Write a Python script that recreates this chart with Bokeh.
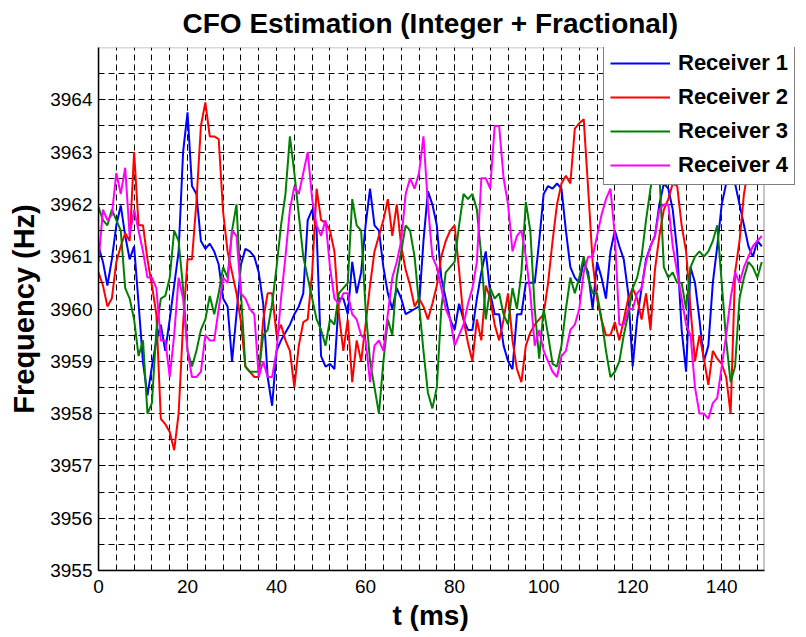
from bokeh.plotting import figure
from bokeh.models import FixedTicker, Legend, LegendItem, Range1d, BoxAnnotation, Title
from bokeh.embed import file_html
from bokeh.resources import INLINE

# ---- data ----
t_ms = list(range(150))

receiver1 = [
    3961.2, 3960.9, 3960.45, 3960.95, 3961.6, 3961.98, 3961.4, 3960.95, 3961.2, 3960.1,
    3958.98, 3958.35, 3958.9, 3959.4, 3959.7, 3959.2, 3959.8, 3960.45, 3961.1, 3963.0,
    3963.76, 3962.35, 3962.2, 3961.3, 3961.15, 3961.25, 3961.1, 3960.85, 3960.2, 3960.05,
    3959.0, 3959.9, 3960.85, 3961.15, 3961.1, 3961.0, 3960.7, 3960.1, 3958.7, 3958.15,
    3959.2, 3959.4, 3959.55, 3959.7, 3959.9, 3960.05, 3960.3, 3961.7, 3961.9, 3961.5,
    3959.1, 3958.9, 3958.95, 3958.85, 3960.2, 3960.2, 3959.9, 3960.9, 3960.3, 3960.7,
    3961.6, 3962.3, 3961.6, 3961.5, 3960.8, 3960.3, 3960.0, 3960.4, 3960.2, 3959.9,
    3959.95, 3960.0, 3960.05, 3961.3, 3962.25, 3962.0, 3961.6, 3960.6, 3960.2, 3959.8,
    3959.6, 3960.1, 3959.8, 3959.6, 3959.6, 3960.2, 3960.7, 3961.1, 3960.3, 3959.9,
    3959.9, 3959.3, 3959.0, 3958.85, 3959.9, 3959.9, 3960.5, 3960.5, 3960.5, 3961.3,
    3962.2, 3962.35, 3962.3, 3962.4, 3962.3, 3961.5, 3960.8, 3960.6, 3960.5, 3960.9,
    3960.7, 3960.0, 3960.9, 3960.6, 3960.2, 3961.1, 3961.5, 3961.2, 3960.95, 3960.3,
    3958.9, 3959.8, 3960.4, 3960.95, 3961.2, 3961.4, 3962.0, 3962.4, 3962.3, 3961.9,
    3961.1, 3959.6, 3958.8, 3960.8, 3960.5, 3959.8, 3959.0, 3959.3, 3960.5, 3961.2,
    3962.0, 3962.4, 3962.5, 3962.4, 3962.0, 3961.6, 3961.2, 3961.0, 3961.3, 3961.2,
]

receiver2 = [
    3960.7, 3960.45, 3960.05, 3960.2, 3960.9, 3961.2, 3961.45, 3961.3, 3963.0, 3961.6,
    3961.6, 3960.95, 3960.45, 3959.9, 3957.9, 3957.8, 3957.65, 3957.3, 3958.0, 3959.7,
    3960.95, 3960.95, 3962.05, 3963.5, 3963.95, 3963.3, 3963.3, 3963.25, 3961.85, 3961.1,
    3960.7, 3960.3, 3959.75, 3958.9, 3958.8, 3958.7, 3958.7, 3959.8, 3960.3, 3960.3,
    3959.5, 3959.7, 3959.4, 3959.2, 3958.5, 3959.3, 3959.75, 3959.8, 3960.7, 3962.3,
    3961.7, 3961.65, 3961.5, 3961.1, 3959.9, 3959.2, 3959.8, 3958.6, 3959.4, 3959.0,
    3959.7, 3960.45, 3961.1, 3961.4, 3961.7, 3962.1, 3961.4, 3962.0, 3961.2, 3960.75,
    3960.45, 3960.05, 3960.2, 3960.05, 3959.8, 3960.1, 3960.45, 3961.0, 3961.3, 3961.5,
    3961.6, 3960.75, 3959.8, 3959.35, 3959.0, 3959.8, 3959.4, 3960.45, 3960.2, 3959.7,
    3959.4, 3959.8, 3960.3, 3959.4, 3958.85, 3958.6, 3959.3, 3959.55, 3959.7, 3959.8,
    3959.9, 3960.5, 3961.3, 3962.0, 3962.4, 3962.55, 3962.4, 3963.45, 3963.55, 3963.63,
    3962.3, 3960.9, 3960.2, 3959.8, 3959.5, 3959.5, 3959.75, 3959.4, 3959.8, 3960.2,
    3960.4, 3960.2, 3959.8, 3960.3, 3959.6, 3960.75, 3961.4, 3961.9, 3962.1, 3962.4,
    3962.35, 3961.6, 3961.1, 3960.0, 3959.0, 3959.5, 3959.05, 3958.55, 3959.2, 3959.05,
    3958.95, 3958.7, 3958.0, 3960.7, 3961.3, 3962.2, 3962.7, 3962.9, 3962.9, 3962.8,
]

receiver3 = [
    3961.95, 3961.7, 3961.6, 3961.9, 3961.7, 3961.5, 3960.4, 3960.2, 3959.8, 3959.1,
    3959.4, 3958.0, 3958.2, 3959.6, 3960.2, 3960.25, 3960.6, 3961.5, 3961.3, 3960.4,
    3959.2, 3958.9, 3959.2, 3959.6, 3959.8, 3960.25, 3959.9, 3960.3, 3960.8, 3960.6,
    3961.5, 3962.0, 3960.3, 3958.9, 3958.8, 3958.8, 3958.8, 3959.5, 3959.6, 3960.1,
    3960.8, 3961.6, 3962.2, 3963.3, 3962.6, 3961.8, 3961.0, 3960.6, 3960.2, 3959.8,
    3959.6, 3959.3, 3959.8, 3959.7, 3960.3, 3960.4, 3960.5, 3962.1, 3961.6, 3961.5,
    3960.0, 3959.0, 3958.5, 3958.0, 3959.0, 3959.8, 3959.5, 3960.6, 3961.1, 3961.6,
    3961.5, 3961.0, 3960.1, 3959.2, 3958.4, 3958.1, 3958.5, 3960.0, 3960.7, 3960.8,
    3960.9, 3961.6, 3962.2, 3962.1, 3962.2, 3961.9, 3961.0, 3959.8, 3960.4, 3960.2,
    3960.3, 3959.9, 3959.7, 3960.4, 3960.0, 3960.7, 3962.05, 3961.5, 3960.0, 3959.05,
    3960.0, 3959.5, 3958.95, 3958.9, 3959.3, 3960.0, 3960.6, 3960.3, 3960.6, 3961.0,
    3960.6, 3960.3, 3960.3, 3959.8, 3959.2, 3958.7, 3958.8, 3959.0, 3959.5, 3959.9,
    3960.4, 3960.6, 3961.0, 3961.7, 3962.3, 3962.8, 3962.6, 3960.8, 3960.6, 3960.7,
    3960.5, 3960.5, 3960.0, 3960.8, 3961.0, 3961.1, 3961.0, 3961.1, 3961.3, 3961.6,
    3960.5, 3959.4, 3958.6, 3958.9, 3960.2, 3960.6, 3960.9, 3960.8, 3960.6, 3960.9,
]

receiver4 = [
    3960.9, 3961.9, 3961.7, 3961.8, 3962.6, 3962.2, 3962.7, 3961.4, 3961.9, 3961.5,
    3961.1, 3960.6, 3960.6, 3960.4, 3959.4, 3959.4, 3958.7, 3959.5, 3960.6, 3960.2,
    3959.2, 3958.7, 3958.7, 3958.8, 3959.5, 3959.4, 3959.4, 3960.0, 3960.6, 3960.5,
    3961.5, 3961.4, 3960.3, 3960.2, 3960.0, 3959.9, 3958.7, 3959.0, 3958.7, 3958.7,
    3959.2, 3960.2, 3961.0, 3961.9, 3962.35, 3962.2, 3962.6, 3963.0, 3962.1, 3961.6,
    3961.4, 3961.7, 3960.8, 3960.2, 3960.1, 3960.3, 3960.3, 3959.9, 3959.8, 3959.5,
    3959.4, 3958.6, 3959.3, 3959.4, 3959.2, 3959.9, 3960.6, 3960.9, 3961.3, 3962.2,
    3962.5, 3962.3, 3962.6, 3963.3, 3962.0, 3961.0, 3960.8, 3960.4, 3960.0, 3959.8,
    3959.3, 3959.5, 3959.7, 3960.1, 3960.4, 3960.9, 3962.5, 3962.5, 3962.3, 3963.5,
    3963.5, 3962.5, 3962.0, 3961.1, 3961.4, 3961.5, 3961.0, 3960.3, 3959.3, 3959.6,
    3959.2, 3959.0, 3958.8, 3958.7, 3959.1, 3959.2, 3959.6, 3959.7, 3960.0, 3960.7,
    3961.0, 3961.0, 3961.4, 3961.8, 3962.1, 3962.3, 3961.4, 3959.7, 3959.7, 3960.0,
    3960.0, 3960.3, 3960.4, 3960.9, 3961.2, 3961.4, 3961.9, 3962.0, 3962.0, 3961.2,
    3960.7, 3960.2, 3959.7, 3959.5, 3958.5, 3958.0, 3958.0, 3957.9, 3958.2, 3958.3,
    3958.9, 3959.5, 3960.2, 3960.7, 3960.5, 3960.8, 3961.0, 3961.2, 3961.3, 3961.4,
]

series_names = ["Receiver 1", "Receiver 2", "Receiver 3", "Receiver 4"]
series_colors = ["#0000ff", "#ff0000", "#008000", "#ff00ff"]

x_major = [0, 20, 40, 60, 80, 100, 120, 140]
x_minor = [v for v in range(0, 150, 4)]
y_major = [3955, 3956, 3957, 3958, 3959, 3960, 3961, 3962, 3963, 3964]
y_minor = [v + 0.5 for v in y_major]
x_limits = (0, 149.5)
y_limits = (3955, 3965)

FONT = "Liberation Sans"

# the frame is stretched to the right edge so the legend can overhang the axes box
# (as in the reference); the visible axes box ends at x_limits[1]
x_view_end = x_limits[1] * (806 - 98) / (763.5 - 98)

p = figure(width=806, height=637, output_backend="svg", toolbar_location=None,
           x_range=Range1d(x_limits[0], x_view_end), y_range=Range1d(*y_limits),
           min_border_left=98, min_border_right=0, min_border_top=47, min_border_bottom=67,
           title="CFO Estimation (Integer + Fractional)")

p.title.text_font = FONT
p.title.text_font_size = "28px"
p.title.text_font_style = "bold"
p.title.align = "left"
p.title.vertical_align = "top"
p.title.offset = 84
p.title.text_color = "black"
p.title.standoff = 14

xticker = FixedTicker(ticks=x_major, minor_ticks=x_minor)
yticker = FixedTicker(ticks=y_major, minor_ticks=y_minor)
p.xaxis.ticker = xticker
p.yaxis.ticker = yticker
p.xaxis.bounds = x_limits

p.yaxis.axis_label = "Frequency (Hz)"

for ax in [p.xaxis[0], p.yaxis[0]]:
    ax.axis_line_color = "black"
    ax.axis_line_width = 1.5
    ax.major_tick_in = 7
    ax.major_tick_out = 0
    ax.minor_tick_in = 4
    ax.minor_tick_out = 0
    ax.major_tick_line_color = "black"
    ax.minor_tick_line_color = "black"
    ax.major_label_text_font = FONT
    ax.major_label_text_font_size = "19px"
    ax.major_label_text_color = "black"
    ax.axis_label_text_font = FONT
    ax.axis_label_text_font_style = "bold"
    ax.axis_label_text_color = "black"
p.xaxis.major_label_standoff = 9
p.yaxis.major_label_standoff = 6
p.yaxis.axis_label_text_font_size = "29px"
p.yaxis.axis_label_standoff = 7

# x axis label, placed under the axes box (centred on the visible box, not the stretched frame)
xlabel = Title(text="t (ms)", align="left", offset=294, standoff=4,
               text_font=FONT, text_font_size="28px", text_font_style="bold", text_color="black")
p.add_layout(xlabel, "below")

p.grid.grid_line_color = "black"
p.grid.grid_line_dash = "6 4"
p.grid.grid_line_width = 1
p.grid.minor_grid_line_color = "black"
p.grid.minor_grid_line_dash = "6 4"
p.grid.minor_grid_line_width = 1
p.xgrid.ticker = xticker
p.ygrid.ticker = yticker

p.outline_line_color = None
p.background_fill_color = "white"

# white cover for the part of the frame outside the axes box
p.add_layout(BoxAnnotation(left=x_limits[1], fill_color="white", fill_alpha=1,
                           line_color=None, level="underlay"))

renderers = []
for ys, name, col in zip([receiver1, receiver2, receiver3, receiver4], series_names, series_colors):
    r = p.line(t_ms, ys, line_color=col, line_width=2)
    renderers.append(r)

# axes box
p.add_layout(BoxAnnotation(left=x_limits[0], right=x_limits[1], bottom=y_limits[0], top=y_limits[1],
                           fill_color=None, fill_alpha=0, line_color="black", line_width=1.5))

legend = Legend(items=[LegendItem(label=n, renderers=[r]) for n, r in zip(series_names, renderers)],
                location=(505, 385))
legend.border_line_color = "black"
legend.border_line_width = 1
legend.background_fill_color = "white"
legend.background_fill_alpha = 1
legend.label_text_font = FONT
legend.label_text_font_style = "bold"
legend.label_text_font_size = "22px"
legend.label_text_color = "black"
legend.glyph_width = 60
legend.glyph_height = 24
legend.label_height = 24
legend.label_standoff = 8
legend.padding = 6
legend.spacing = 8
legend.margin = 0
p.add_layout(legend)

open("out.html", "w").write(file_html(p, INLINE))
